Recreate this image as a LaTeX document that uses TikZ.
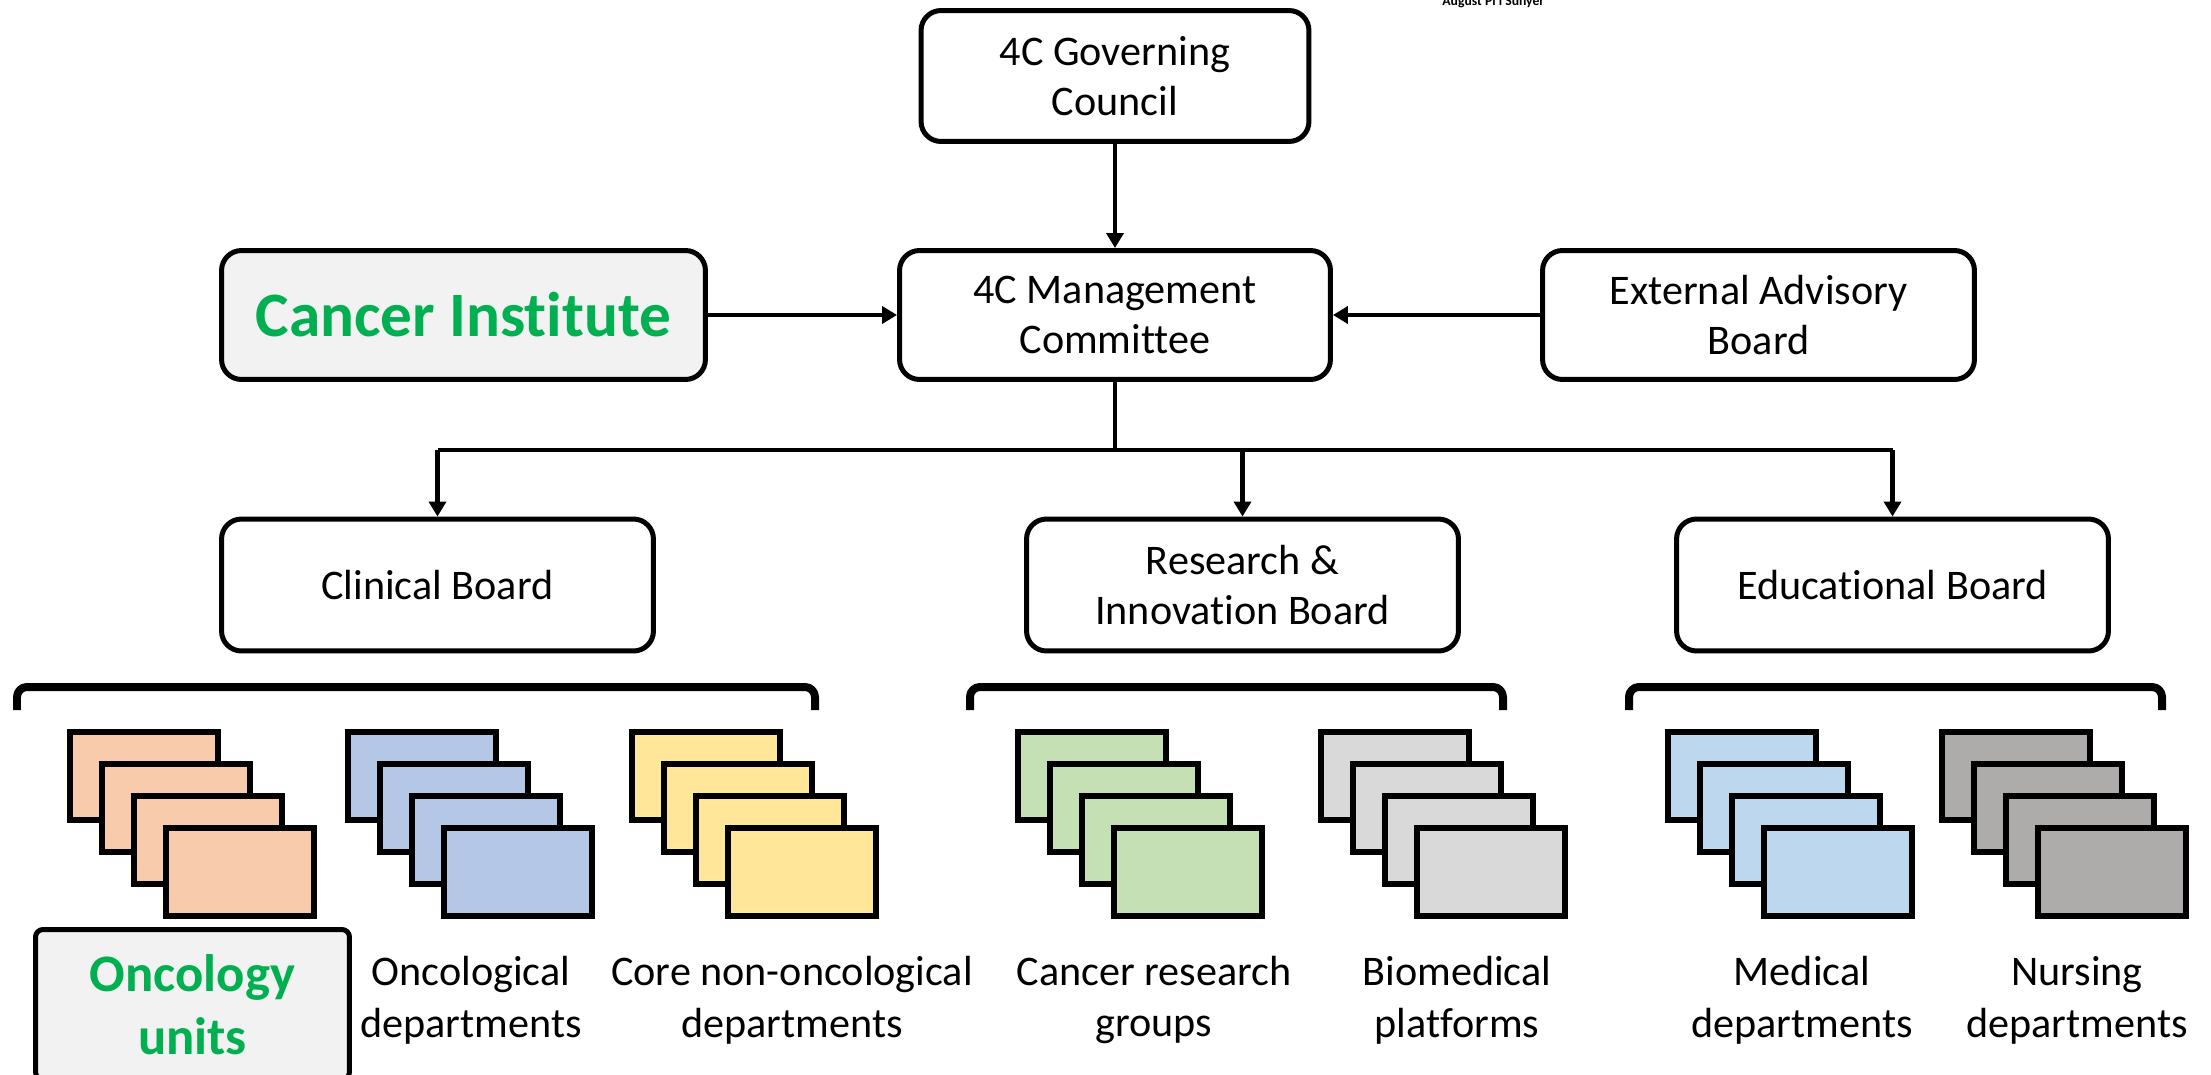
\documentclass[tikz,border=0pt]{standalone}
\usepackage{fontspec}
\setmainfont{Carlito}[Ligatures={NoCommon,NoContextual}]
\usetikzlibrary{arrows.meta}
\definecolor{boxgray}{HTML}{F2F2F2}
\definecolor{instgreen}{HTML}{00B050}
\definecolor{cOrange}{HTML}{F8CBAD}
\definecolor{cBlue}{HTML}{B4C7E7}
\definecolor{cYellow}{HTML}{FFE699}
\definecolor{cGreen}{HTML}{C5E0B4}
\definecolor{cLight}{HTML}{D9D9D9}
\definecolor{cSky}{HTML}{BDD7EE}
\definecolor{cDark}{HTML}{AEABAB}
\begin{document}
\begin{tikzpicture}[x=0.02cm, y=-0.02cm, line join=round, >={Triangle[width=0.34cm,length=0.3cm]},
	board/.style={draw, line width=0.1cm, rounded corners=0.4cm, align=center, inner sep=0pt,
		minimum width=8.64cm, minimum height=2.64cm, font=\fontsize{24}{28.5}\selectfont},
	link/.style={line width=0.095cm},
	brace/.style={line width=0.16cm, rounded corners=0.2cm},
	card/.style={draw, line width=0.11cm, line join=miter},
	lbl/.style={align=center, inner sep=0pt, font=\fontsize{24}{29.5}\selectfont}]
	\useasboundingbox (0,0) rectangle (2211,1075);
	\node[anchor=base west, inner sep=0pt, font=\fontsize{7.8}{9}\selectfont\bfseries] (apis) at (1442,6) {August Pi i Sunyer};
	% top levels
	\node[board, minimum width=7.76cm, minimum height=2.62cm] (gov) at (1115,76) {4C Governing\\Council};
	\node[board, minimum width=8.62cm, minimum height=2.58cm] (mgmt) at (1115,315) {4C Management\\Committee};
	\node[board, minimum width=9.68cm, minimum height=2.58cm, fill=boxgray, text=instgreen,
		font=\fontsize{36}{40}\selectfont\bfseries] (inst) at (463.5,315) {Cancer Institute};
	\node[board, minimum height=2.58cm] (eab) at (1758.5,315) {External Advisory\\Board};
	\node[board] (clin) at (437.5,585) {Clinical Board};
	\node[board] (res) at (1242.5,585) {Research \&\\Innovation Board};
	\node[board] (edu) at (1892.5,585) {Educational Board};
	\coordinate (bar) at (1115,450);
	\draw[link,->] (gov) -- (mgmt);
	\draw[link,->] (inst) -- (mgmt);
	\draw[link,->] (eab) -- (mgmt);
	\draw[link] (mgmt) -- (bar);
	\draw[link] (bar -| clin) -- (bar -| edu);
	\foreach \b in {clin,res,edu}
		\draw[link,->] (bar -| \b) -- (\b);
	% brackets
	\foreach \l/\r in {17/815, 970/1503, 1629/2162}
		\draw[brace] (\l,710) -- (\l,687) -- (\r,687) -- (\r,710);
	% card stacks
	\foreach \sx/\col in {67/cOrange, 345/cBlue, 629/cYellow, 1015/cGreen, 1318/cLight, 1665/cSky, 1939/cDark}
		\foreach \k in {0,...,3}
			\draw[card, fill=\col] ({\sx+3+32*\k},{732+32*\k}) rectangle ++(148,88);
	% labels
	\node[draw, line width=0.1cm, rounded corners=0.15cm, fill=boxgray, text=instgreen, align=center, inner sep=0pt,
		minimum width=6.28cm, minimum height=3.0cm, font=\fontsize{30}{36}\selectfont\bfseries] (oncu) at (192.5,1004.5) {Oncology\\units};
	\node[lbl] (oncdep) at (471,1000) {Oncological\\departments};
	\node[lbl] (coredep) at (792,1000) {Core non-oncological\\departments};
	\node[lbl] (crg) at (1154,1000) {Cancer research\\groups};
	\node[lbl] (bmp) at (1457,1000) {Biomedical\\platforms};
	\node[lbl] (meddep) at (1802,1000) {Medical\\departments};
	\node[lbl] (nurdep) at (2077,1000) {Nursing\\departments};
\end{tikzpicture}
\end{document}
